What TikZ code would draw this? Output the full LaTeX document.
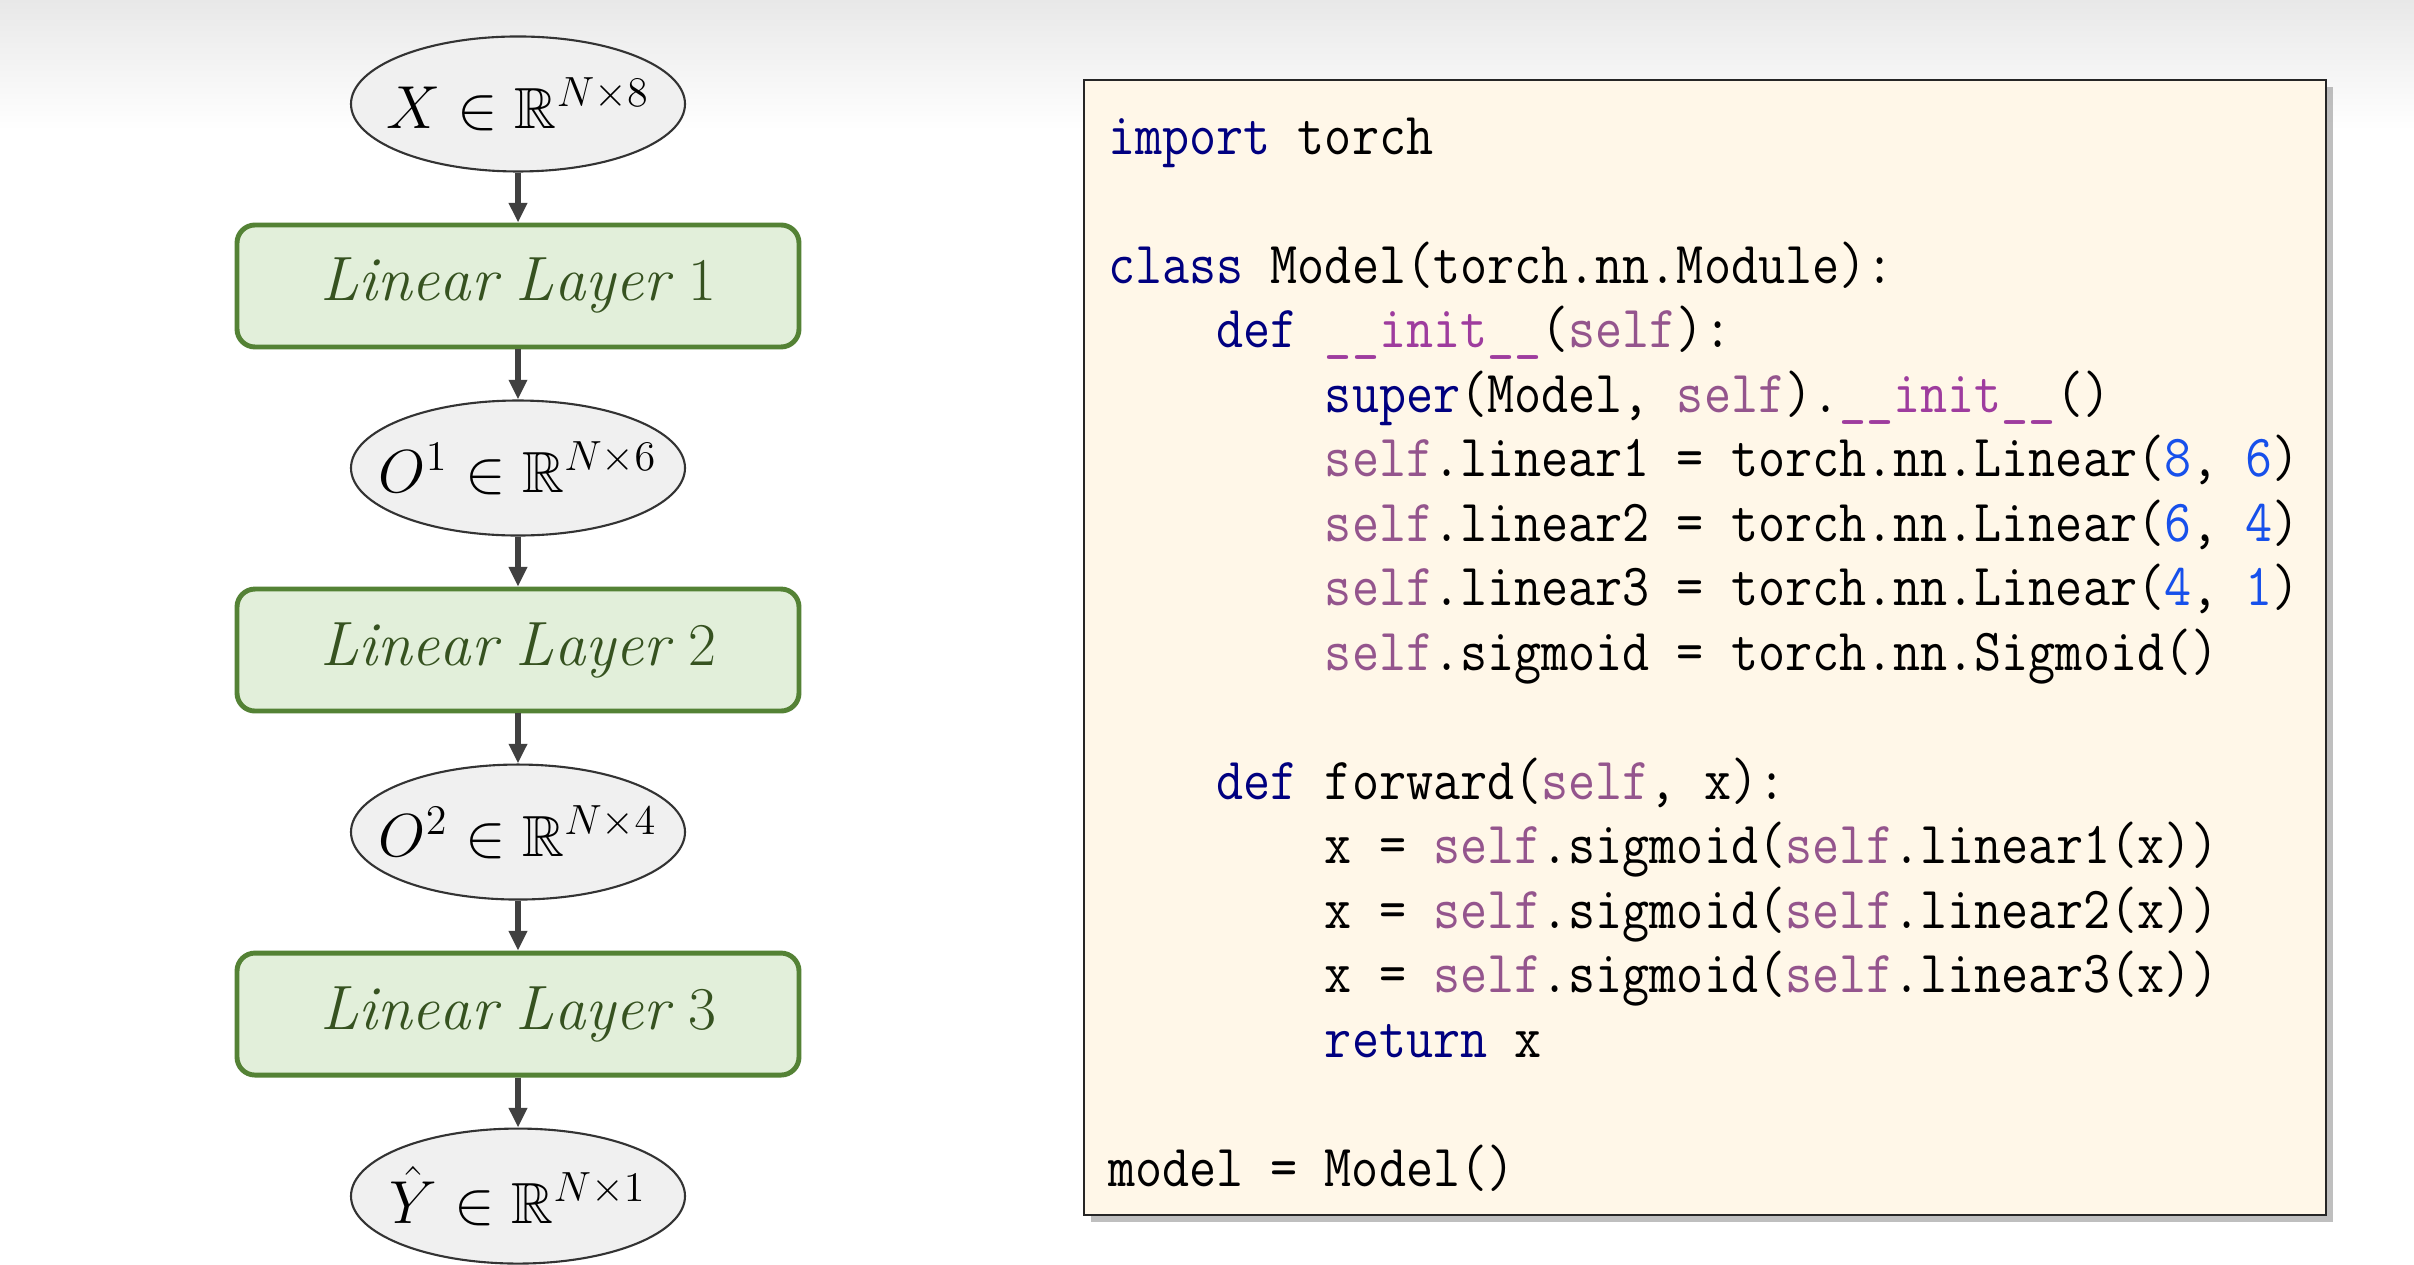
\documentclass[tikz,border=0pt]{standalone}
\usepackage{amsmath,amssymb}
\usepackage{fontspec}
\newfontfamily\codefont[FakeStretch=0.88]{Latin Modern Mono}
\usetikzlibrary{shapes.geometric, arrows.meta, positioning, shadows}

\definecolor{ellfill}{HTML}{F0F0F0}
\definecolor{layfill}{HTML}{E2EFDA}
\definecolor{layline}{HTML}{548235}
\definecolor{laytext}{HTML}{365220}
\definecolor{arrowc}{HTML}{404040}
\definecolor{codebg}{HTML}{FFF7E8}
\definecolor{kwc}{HTML}{000080}
\definecolor{selfc}{HTML}{94558D}
\definecolor{dunderc}{HTML}{9E3C9E}
\definecolor{numc}{HTML}{1750EB}

\newcommand{\kwd}[1]{\textcolor{kwc}{#1}}
\newcommand{\slf}{\textcolor{selfc}{self}}
\newcommand{\dnd}{\textcolor{dunderc}{\_\_init\_\_}}
\newcommand{\nmb}[1]{\textcolor{numc}{#1}}
\newcommand{\ind}{\phantom{0000}}

\begin{document}
\begin{tikzpicture}[>=Stealth,
  ellnode/.style={draw=black!80, line width=0.6pt, fill=ellfill, ellipse, inner ysep=0pt, inner xsep=-0.3cm,
    minimum width=3.34cm, minimum height=1.35cm, font=\fontsize{16.5}{19}\selectfont},
  laynode/.style={draw=layline, line width=1.4pt, fill=layfill, rounded corners=0.18cm,
    minimum width=5.62cm, minimum height=1.22cm, text=laytext, font=\fontsize{17.8}{20}\selectfont},
  flow/.style={->, draw=arrowc, line width=1.7pt, >={Triangle[width=5pt,length=5.6pt]}},
  codebox/.style={draw=black!85, line width=0.8pt, fill=codebg,
    minimum width=12.42cm, minimum height=11.35cm,
    drop shadow={shadow xshift=0.07cm, shadow yshift=-0.07cm, fill=black!45, opacity=0.55}}]
\useasboundingbox (0,0) rectangle (24.14,12.65);
\fill[white] (0,0) rectangle (24.14,12.65);
\fill[top color=black!9, bottom color=white] (0,11.35) rectangle (24.14,12.65);

% network
\node[ellnode] (x) at (5.18,11.61) {$X \in \mathbb{R}^{N\times 8}$};
\node[laynode, below=0.5cm of x] (lay1) {$\mathit{Linear\ Layer}\ 1$};
\node[ellnode, below=0.5cm of lay1] (o1) {$O^1 \in \mathbb{R}^{N\times 6}$};
\node[laynode, below=0.5cm of o1] (lay2) {$\mathit{Linear\ Layer}\ 2$};
\node[ellnode, below=0.5cm of lay2] (o2) {$O^2 \in \mathbb{R}^{N\times 4}$};
\node[laynode, below=0.5cm of o2] (lay3) {$\mathit{Linear\ Layer}\ 3$};
\node[ellnode, below=0.5cm of lay3] (yhat) {$\hat{Y} \in \mathbb{R}^{N\times 1}$};
\foreach \a/\b in {x/lay1, lay1/o1, o1/lay2, lay2/o2, o2/lay3, lay3/yhat}
  \draw[flow] (\a) -- (\b);

% code
\node[codebox] (code) at (17.05,6.175) {};
\node[anchor=north west, inner sep=0pt, align=left,
  font=\codefont\fontsize{17}{18.35}\selectfont]
  (src) at ([xshift=0.25cm, yshift=-0.30cm]code.north west) {%
\strut\kwd{import} torch\\
\mbox{}\\
\kwd{class} Model(torch.nn.Module):\\
\ind\kwd{def} \dnd(\slf):\\
\ind\ind\kwd{super}(Model, \slf).\dnd()\\
\ind\ind\slf.linear1 = torch.nn.Linear(\nmb{8}, \nmb{6})\\
\ind\ind\slf.linear2 = torch.nn.Linear(\nmb{6}, \nmb{4})\\
\ind\ind\slf.linear3 = torch.nn.Linear(\nmb{4}, \nmb{1})\\
\ind\ind\slf.sigmoid = torch.nn.Sigmoid()\\
\mbox{}\\
\ind\kwd{def} forward(\slf, x):\\
\ind\ind x = \slf.sigmoid(\slf.linear1(x))\\
\ind\ind x = \slf.sigmoid(\slf.linear2(x))\\
\ind\ind x = \slf.sigmoid(\slf.linear3(x))\\
\ind\ind\kwd{return} x\\
\mbox{}\\
model = Model()};
\end{tikzpicture}
\end{document}
